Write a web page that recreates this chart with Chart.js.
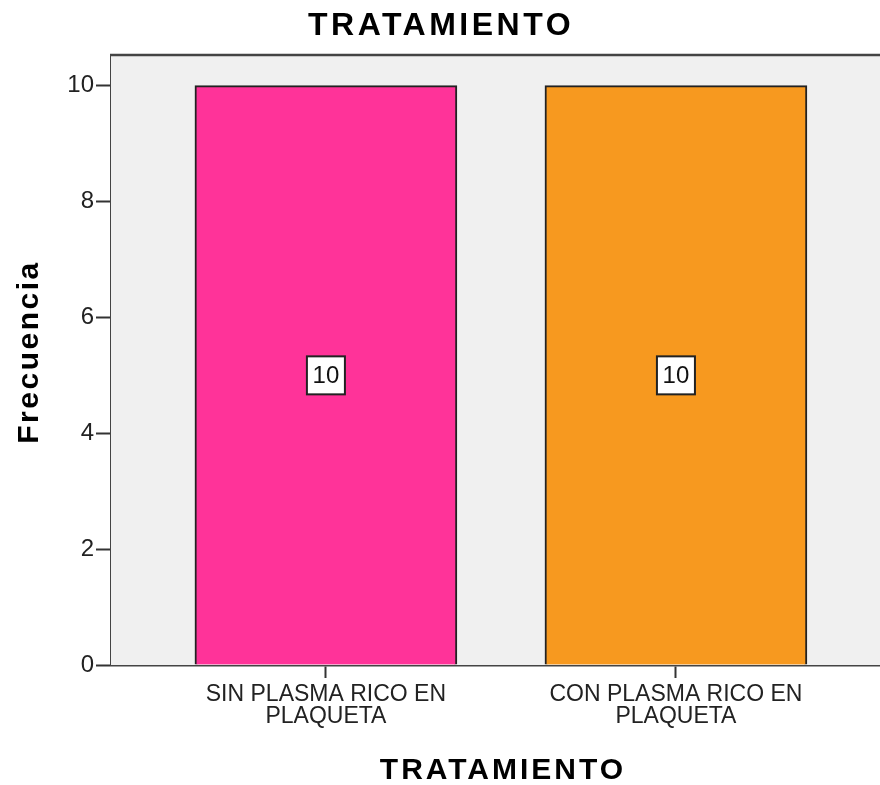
<!DOCTYPE html>
<html lang="es">
  <head>
    <meta charset="UTF-8" />
    <title>TRATAMIENTO</title>
    <script src="https://cdn.jsdelivr.net/npm/chart.js"></script>
    <style>
      body {
        margin: 0;
        padding: 0;
        background: #fff;
        overflow: hidden;
      }
      #wrap {
        width: 880px;
        height: 785px;
      }
    </style>
  </head>
  <body>
    <div id="wrap">
      <canvas id="chart" width="880" height="785"></canvas>
    </div>

    <script>
      // data
      const categorias = [
        ["SIN PLASMA RICO EN", "PLAQUETA"],
        ["CON PLASMA RICO EN", "PLAQUETA"],
      ];
      const frecuencias = [10, 10];
      const colores = ["#FF3399", "#F7991F"];
      const yTicks = [0, 2, 4, 6, 8, 10];

      const FONT = "'Liberation Sans', Arial, sans-serif";

      // gray plot background, top frame line, value boxes and titles
      const decor = {
        id: "decor",
        beforeDatasetsDraw(chart) {
          const { ctx, chartArea: a } = chart;
          ctx.save();
          ctx.fillStyle = "#F0F0F0";
          ctx.fillRect(a.left, a.top, a.right - a.left, a.bottom - a.top);
          ctx.strokeStyle = "#444";
          ctx.lineWidth = 2.5;
          ctx.beginPath();
          ctx.moveTo(a.left - 1, a.top);
          ctx.lineTo(a.right, a.top);
          ctx.stroke();
          ctx.restore();
        },
        afterDatasetsDraw(chart) {
          const { ctx } = chart;
          const y = chart.scales.y;
          const meta = chart.getDatasetMeta(0);
          ctx.save();
          meta.data.forEach((bar, i) => {
            const v = frecuencias[i];
            const cy = y.getPixelForValue(v / 2);
            const w = 38, h = 38;
            ctx.fillStyle = "#fff";
            ctx.fillRect(bar.x - w / 2, cy - h / 2, w, h);
            ctx.strokeStyle = "#222";
            ctx.lineWidth = 2;
            ctx.strokeRect(bar.x - w / 2, cy - h / 2, w, h);
            ctx.fillStyle = "#111";
            ctx.font = "24px " + FONT;
            ctx.textAlign = "center";
            ctx.textBaseline = "middle";
            ctx.fillText(String(v), bar.x, cy + 1);
          });
          ctx.restore();
        },
        afterDraw(chart) {
          const { ctx } = chart;
          ctx.save();
          ctx.fillStyle = "#000";
          ctx.textAlign = "center";
          ctx.textBaseline = "alphabetic";

          ctx.font = "bold 32px " + FONT;
          ctx.letterSpacing = "3.5px";
          ctx.fillText("TRATAMIENTO", 441, 35);

          ctx.font = "bold 30px " + FONT;
          ctx.letterSpacing = "3px";
          ctx.fillText("TRATAMIENTO", 503, 779);

          ctx.font = "bold 30px " + FONT;
          ctx.letterSpacing = "2.5px";
          ctx.translate(38, 353);
          ctx.rotate(-Math.PI / 2);
          ctx.fillText("Frecuencia", 1, 0);
          ctx.restore();
        },
      };

      new Chart(document.getElementById("chart"), {
        type: "bar",
        data: {
          datasets: [
            {
              label: "Frecuencia",
              data: frecuencias.map((v, i) => ({ x: i, y: v })),
              backgroundColor: colores,
              borderColor: "#222",
              borderWidth: 2,
              barThickness: 262,
            },
          ],
        },
        options: {
          responsive: false,
          animation: false,
          layout: { padding: { top: 55, left: 0, right: 0, bottom: 0 } },
          plugins: {
            legend: { display: false },
            title: { display: false },
            tooltip: { enabled: false },
          },
          scales: {
            x: {
              type: "linear",
              offset: false,
              min: -0.614,
              max: 1.583,
              afterBuildTicks(scale) {
                scale.ticks = categorias.map((c, i) => ({ value: i }));
              },
              afterFit(scale) {
                scale.height = 120;
              },
              ticks: {
                autoSkip: false,
                maxRotation: 0,
                padding: 6,
                color: "#222",
                font: { family: FONT, size: 23, lineHeight: 0.95 },
                callback: (v) => categorias[v] || "",
              },
              grid: {
                offset: false,
                drawOnChartArea: false,
                tickLength: 13,
                tickColor: "#333",
                tickWidth: 2,
              },
              border: { display: true, color: "#444", width: 2.5 },
            },
            y: {
              min: 0,
              max: 10.53,
              afterBuildTicks(scale) {
                scale.ticks = yTicks.map((v) => ({ value: v }));
              },
              afterFit(scale) {
                scale.width = 111;
              },
              ticks: {
                padding: 2,
                color: "#222",
                font: { family: FONT, size: 24 },
              },
              grid: {
                drawOnChartArea: false,
                tickLength: 15,
                tickColor: "#333",
                tickWidth: 2,
              },
              border: { display: true, color: "#444", width: 2.5 },
            },
          },
        },
        plugins: [decor],
      });
    </script>
  </body>
</html>
